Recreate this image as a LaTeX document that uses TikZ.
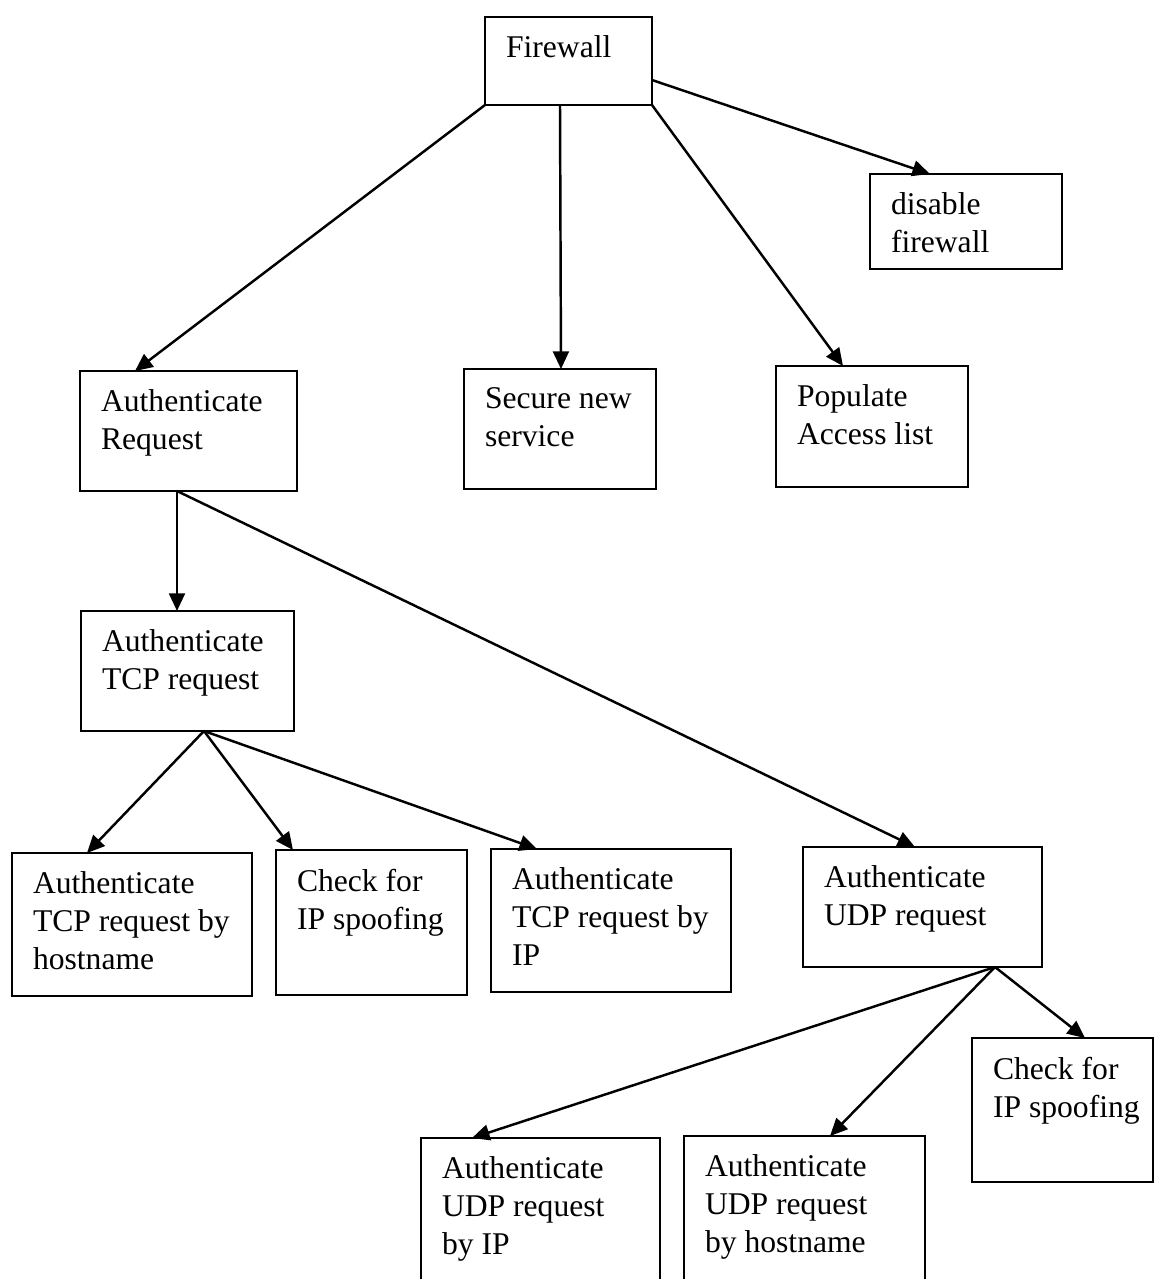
\documentclass[tikz,border=0pt]{standalone}
\usepackage{fontspec}
\setmainfont{Liberation Serif}
\usetikzlibrary{arrows.meta,calc}

% A task box: name, left, top, right, bottom (in pixel units), label
\newcommand\taskbox[6]{%
  \node[taskframe, anchor=north west,
        minimum width={(#4-#2)*0.02cm}, minimum height={(#5-#3)*0.02cm}]
        (#1) at (#2,#3) {};
  \node[tasktext, anchor=north west] (#1-t) at ($(#1.north west)+(21,19)$) {#6};
}

\begin{document}
\begin{tikzpicture}[x=0.02cm, y=-0.02cm,
  taskframe/.style={draw, rectangle, line width=1.6pt, inner sep=0pt, outer sep=0pt},
  tasktext/.style={align=left, inner sep=0pt, outer sep=0pt,
                   font=\fontsize{18}{21.5}\selectfont},
  link/.style={line width=1.4pt, -{Triangle[length=10pt,width=9pt]}}]

  \useasboundingbox (0,0) rectangle (1155,1279);
  \clip (0,0) rectangle (1155,1279);

  % top level
  \taskbox{fw}{485}{17}{652}{105}{Firewall}
  \taskbox{dis}{870}{174}{1062}{269}{disable\\firewall}
  \taskbox{ar}{80}{371}{297}{491}{Authenticate\\Request}
  \taskbox{sec}{464}{369}{656}{489}{Secure new\\service}
  \taskbox{pop}{776}{366}{968}{487}{Populate\\Access list}

  % TCP branch
  \taskbox{tcp}{81}{611}{294}{731}{Authenticate\\TCP request}
  \taskbox{tcph}{12}{853}{252}{996}{Authenticate\\TCP request by\\hostname}
  \taskbox{chk}{276}{850}{467}{995}{Check for\\IP spoofing}
  \taskbox{tcpip}{491}{849}{731}{992}{Authenticate\\TCP request by\\IP}

  % UDP branch
  \taskbox{udp}{803}{847}{1042}{967}{Authenticate\\UDP request}
  \taskbox{chk2}{972}{1038}{1153}{1182}{Check for\\IP spoofing}
  \taskbox{udpip}{421}{1138}{660}{1300}{Authenticate\\UDP request\\by IP}
  \taskbox{udph}{684}{1136}{925}{1300}{Authenticate\\UDP request\\by hostname}

  % connectors from Firewall
  \draw[link] (fw.south west) -- ($(ar.north west)+(55,0)$);
  \draw[link] ($(fw.south west)+(75,0)$) -- ($(sec.north west)+(97,0)$);
  \draw[link] (fw.south east) -- ($(pop.north west)+(67,0)$);
  \draw[link] ($(fw.north east)+(0,63)$) -- ($(dis.north west)+(60,0)$);

  % connectors from Authenticate Request
  \draw[link] ($(ar.south west)+(97,0)$) -- ($(tcp.north west)+(96,0)$);
  \draw[link] ($(ar.south west)+(97,0)$) -- ($(udp.north west)+(112,0)$);

  % connectors from Authenticate TCP request
  \draw[link] ($(tcp.south west)+(123,0)$) -- ($(tcph.north west)+(75,0)$);
  \draw[link] ($(tcp.south west)+(123,0)$) -- ($(chk.north west)+(17,0)$);
  \draw[link] ($(tcp.south west)+(123,0)$) -- ($(tcpip.north west)+(46,0)$);

  % connectors from Authenticate UDP request
  \draw[link] ($(udp.south west)+(192,0)$) -- ($(udpip.north west)+(51,0)$);
  \draw[link] ($(udp.south west)+(192,0)$) -- ($(udph.north west)+(146,0)$);
  \draw[link] ($(udp.south west)+(192,0)$) -- ($(chk2.north west)+(113,0)$);
\end{tikzpicture}
\end{document}
